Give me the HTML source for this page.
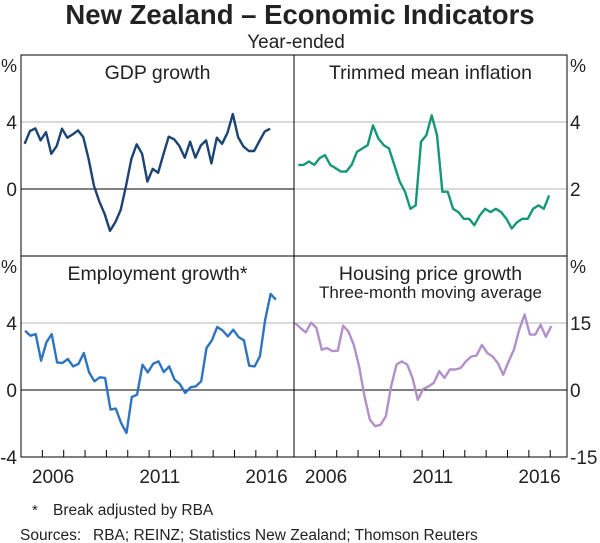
<!DOCTYPE html>
<html><head><meta charset="utf-8"><style>
body{margin:0;background:#fff}
svg{display:block;font-family:"Liberation Sans",sans-serif}
</style></head><body>
<svg id="c" width="600" height="543" viewBox="0 0 600 543">
<text x="300" y="24" text-anchor="middle" font-size="27.5" font-weight="bold" fill="#222">New Zealand – Economic Indicators</text>
<text x="296" y="48" text-anchor="middle" font-size="19" fill="#222">Year-ended</text>
<text x="32" y="515" font-size="15" fill="#222">*</text>
<text x="53" y="515" font-size="15.5" fill="#222">Break adjusted by RBA</text>
<text x="20" y="540" font-size="15.5" fill="#222">Sources:</text>
<text x="93" y="540" font-size="15.5" fill="#222">RBA; REINZ; Statistics New Zealand; Thomson Reuters</text>
<g id="g"></g>
</svg>
<script>
const gdpValues=[2.7,3.46,3.62,2.9,3.4,2.1,2.57,3.6,3.06,3.26,3.5,3.1,1.77,0.18,-0.76,-1.5,-2.5,-1.97,-1.25,0.18,1.8,2.67,2.1,0.44,1.2,0.97,2.07,3.12,2.97,2.57,1.87,2.83,1.87,2.6,2.9,1.53,3.06,2.7,3.36,4.48,3.1,2.53,2.27,2.27,2.87,3.44,3.6];
const inflValues=[2.72,2.72,2.82,2.72,2.92,3.01,2.72,2.62,2.52,2.52,2.72,3.11,3.21,3.31,3.9,3.51,3.31,3.21,2.72,2.22,1.92,1.41,1.51,3.41,3.61,4.2,3.61,1.92,1.92,1.41,1.31,1.11,1.11,0.92,1.21,1.41,1.31,1.41,1.31,1.11,0.82,1.01,1.11,1.11,1.41,1.51,1.41,1.81];
const empValues=[3.54,3.24,3.34,1.75,2.85,3.34,1.65,1.61,1.85,1.41,1.55,2.21,1.05,0.52,0.76,0.72,-1.17,-1.11,-1.97,-2.57,-0.42,-0.28,1.51,1.05,1.57,1.71,1.07,1.41,0.62,0.36,-0.18,0.16,0.22,0.52,2.51,2.97,3.76,3.56,3.2,3.6,3.16,2.97,1.45,1.41,2.01,4.2,5.73,5.39];
const houseValues=[15.0,13.9,12.9,15.1,13.9,9.0,9.4,8.7,8.8,14.4,13.1,10.1,5.3,-1.4,-6.6,-8.1,-7.8,-5.9,0.8,5.7,6.4,5.7,2.7,-2.2,0.2,0.8,1.6,4.2,2.7,4.6,4.6,4.9,6.4,7.5,7.7,10.1,8.3,7.5,6.0,3.4,6.4,9.0,13.5,16.9,12.4,12.4,14.6,11.9,14.3];
const yearLabels=["2006","2011","2016"];
const yearTicks=[2006,2007,2008,2009,2010,2011,2012,2013,2014,2015,2016,2017];

const NS="http://www.w3.org/2000/svg";
const g=document.getElementById('g');
function el(t,a,p){const e=document.createElementNS(NS,t);for(const k in a)e.setAttribute(k,a[k]);(p||g).appendChild(e);return e;}
const YPX=21.35;
const panels=[
 {name:'gdp',x0:21,x1:294,y0:55,y1:256,min:-4,max:8,grid:[4],lab:[4,0],side:'l',title:'GDP growth',data:gdpValues,start:2005.17,color:'#1b4472'},
 {name:'inflation',x0:294,x1:567,y0:55,y1:256,min:0,max:6,grid:[4,2],lab:[4,2],side:'r',title:'Trimmed mean inflation',data:inflValues,start:2005.2,color:'#16977a'},
 {name:'employment',x0:21,x1:294,y0:256,y1:457,min:-4,max:8,grid:[4],lab:[4,0,-4],side:'l',title:'Employment growth*',data:empValues,start:2005.19,color:'#2e74c0',bottom:true},
 {name:'housing',x0:294,x1:567,y0:256,y1:457,min:-15,max:30,grid:[15],lab:[15,0,-15],side:'r',title:'Housing price growth',sub:'Three-month moving average',data:houseValues,start:2005.05,color:'#b290c9',bottom:true}
];
panels.forEach(p=>{
 const xs=t=>p.x0+(t-2005)*YPX;
 const ys=v=>p.y1-(v-p.min)/(p.max-p.min)*(p.y1-p.y0);
 p.grid.forEach(v=>{const l=el('line',{x1:p.x0,x2:p.x1,y1:ys(v),y2:ys(v),stroke:'#b5b5b5','stroke-width':1});
  
  });
 if(p.min<0){const z=el('line',{x1:p.x0,x2:p.x1,y1:ys(0),y2:ys(0),stroke:'#000','stroke-width':1});
  
  }
 const pts=p.data.map((v,i)=>xs(p.start+i*0.25).toFixed(1)+','+ys(v).toFixed(1)).join(' ');
 const pl=el('polyline',{points:pts,fill:'none',stroke:p.color,'stroke-width':2.4,'stroke-linejoin':'round'});
 
 
 const t=el('text',{x:(p.x0+p.x1)/2,y:p.y0+24,'text-anchor':'middle','font-size':19.5,fill:'#222'});t.textContent=p.title;
 
 
 if(p.sub){const s=el('text',{x:(p.x0+p.x1)/2,y:p.y0+42,'text-anchor':'middle','font-size':17,fill:'#222'});s.textContent=p.sub;
  
  }
 const lx=p.side==='l'?17:570, anc=p.side==='l'?'end':'start';
 p.lab.forEach(v=>{const a=el('text',{x:lx,y:ys(v)+7,'text-anchor':anc,'font-size':19,fill:'#222'});a.textContent=v;
  
  });
 const pc=el('text',{x:p.side==='l'?17:570,y:p.y0+17,'text-anchor':anc,'font-size':18,fill:'#222'});pc.textContent='%';
 
 
 if(p.bottom){
  yearTicks.forEach(y=>{const k=el('line',{x1:xs(y),x2:xs(y),y1:p.y1,y2:p.y1-7,stroke:'#000','stroke-width':1});
   
   });
  yearLabels.forEach(y=>{const a=el('text',{x:xs(+y+0.5),y:483,'text-anchor':'middle','font-size':19,fill:'#222'});a.textContent=y;
   
   });
 }
 const r=el('rect',{x:p.x0,y:p.y0,width:p.x1-p.x0,height:p.y1-p.y0,fill:'none',stroke:'#000','stroke-width':1});
 
 
});
</script>
</body></html>
